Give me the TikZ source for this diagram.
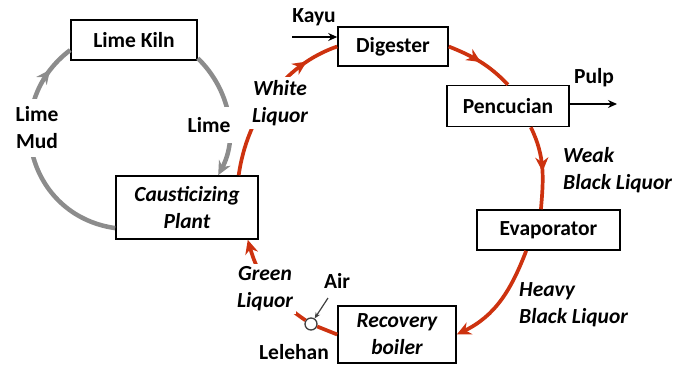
\documentclass[tikz,border=0pt]{standalone}
\usepackage{fontspec}
\setmainfont{Carlito}
\usetikzlibrary{arrows.meta,decorations.markings}
\definecolor{liquorred}{RGB}{205,50,15}
\definecolor{limegrey}{RGB}{140,140,140}
\newcommand{\unitfont}{\fontsize{21.5}{27}\selectfont\bfseries}
\tikzset{
  unit/.style={draw, black, line width=1.6pt, fill=white, inner sep=0pt, align=center, font=\unitfont},
  flow/.style={liquorred, line width=3.7pt},
  limeflow/.style={limegrey, line width=4.5pt},
  feed/.style={black, line width=1.6pt, -{Stealth[length=9pt,width=8pt]}},
  lbl/.style={fill=white, inner sep=3pt, align=center, font=\unitfont},
  midarrow/.style={postaction={decorate}, decoration={markings,
      mark=at position #1 with {\arrow{Stealth[length=14pt,width=13pt]}}}},
  endarrow/.style={-{Stealth[length=14pt,width=13pt]}},
}
\begin{document}
\begin{tikzpicture}[x=1pt,y=1pt]
        \useasboundingbox (0,0) rectangle (682,365);
        % process units
        \node [unit, minimum width=126pt, minimum height=40pt] at (134, 325) (LK) {Lime Kiln};
        \node [unit, minimum width=142pt, minimum height=63pt, font=\unitfont\itshape] at (187, 157.5) (CP) {Causticizing\\Plant};
        \node [unit, minimum width=110pt, minimum height=39pt] at (393, 318.5) (DG) {Digester};
        \node [unit, minimum width=122pt, minimum height=41pt] at (508, 259) (PC) {Pencucian};
        \node [unit, minimum width=143pt, minimum height=40pt] at (548.5, 135) (EV) {Evaporator};
        \node [unit, minimum width=118pt, minimum height=57pt, font=\unitfont\itshape] at (397, 30.5) (RB) {Recovery\\boiler};
        % liquor cycle
        \draw [flow, midarrow=0.8] (CP.32) to[out=82, in=199, looseness=0.92] (DG.west);
        \draw [flow, midarrow=0.5] (DG.east) to[out=-22, in=134] (PC.north);
        \draw [flow, midarrow=0.55] (PC.-43) to[out=-64, in=85] (EV.110);
        \draw [flow, endarrow] (EV.223) to[out=-111, in=26] (RB.east);
        \node [circle, draw=darkgray, line width=1.3pt, fill=white, minimum size=12pt, inner sep=0pt] at (311, 41) (LH) {};
        \draw [flow] (RB.west) -- (LH);
        \draw [flow, endarrow] (LH) to[out=146, in=-74] (CP.-28);
        % lime cycle
        \draw [limeflow, endarrow] (LK.-16) to[out=-44, in=62, looseness=0.95] (CP.46);
        \draw [limeflow, midarrow=0.88] (CP.196) to[out=172, in=217, looseness=1.25] (LK.189);
        % feeds
        \coordinate (kayu) at (292, 328);
        \coordinate (pulp) at (617, 261);
        \coordinate (air) at (328, 67);
        \draw [feed] (kayu) -- (DG.west |- kayu);
        \draw [feed] (PC.east |- pulp) -- (pulp);
        \draw [darkgray, line width=1.2pt, -{Stealth[length=6pt,width=5pt]}] (air) -- (LH);
        % labels
        \node [font=\unitfont] at (314, 348) (KY) {Kayu};
        \node [font=\unitfont] at (594, 287) (PL) {Pulp};
        \node [font=\unitfont] at (337, 84) (AR) {Air};
        \node [font=\unitfont] at (294, 13) (LL) {Lelehan};
        \node [lbl, font=\unitfont\itshape] at (280, 262) (WL) {White\\Liquor};
        \node [lbl, inner ysep=10pt] at (209, 240) (LM) {Lime};
        \node [lbl, inner ysep=8pt] at (37, 237) (MD) {Lime\\Mud};
        \node [lbl, font=\unitfont\itshape] at (265, 76) (GL) {Green\\Liquor};
        \node [lbl, font=\unitfont\itshape, align=left, anchor=west] at (560, 195) (WB) {Weak\\Black Liquor};
        \node [lbl, font=\unitfont\itshape, align=left, anchor=west] at (516, 60) (HB) {Heavy\\Black Liquor};
\end{tikzpicture}
\end{document}
